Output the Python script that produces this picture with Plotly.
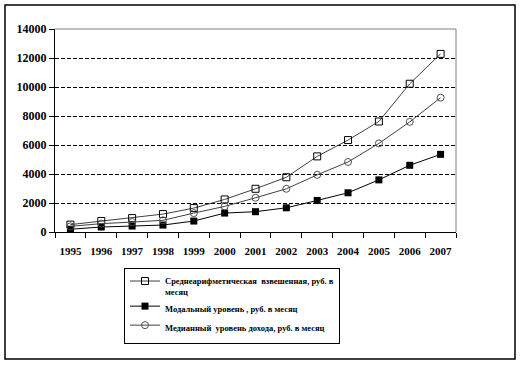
import plotly.graph_objects as go

years = ["1995", "1996", "1997", "1998", "1999", "2000", "2001", "2002", "2003", "2004", "2005", "2006", "2007"]
avg_income = [510, 760, 960, 1235, 1650, 2245, 2980, 3775, 5215, 6340, 7620, 10225, 12285]
modal_income = [190, 345, 410, 480, 755, 1305, 1400, 1670, 2175, 2705, 3595, 4600, 5355]
median_income = [390, 575, 685, 805, 1305, 1765, 2360, 2980, 3940, 4830, 6110, 7595, 9265]

name_avg = "Среднеарифметическая  взвешенная, руб. в<br>месяц"
name_modal = "Модальный уровень , руб. в месяц"
name_median = "Медианный  уровень дохода, руб. в месяц"

FONT = "Liberation Serif"
LINE = "#404040"

fig = go.Figure()
fig.add_trace(go.Scatter(x=years, y=avg_income, name=name_avg, mode="lines+markers",
                         line=dict(color=LINE, width=1),
                         marker=dict(symbol="square-open", size=7, color="black", line=dict(width=1))))
fig.add_trace(go.Scatter(x=years, y=modal_income, name=name_modal, mode="lines+markers",
                         line=dict(color="black", width=1),
                         marker=dict(symbol="square", size=7, color="black")))
fig.add_trace(go.Scatter(x=years, y=median_income, name=name_median, mode="lines+markers",
                         line=dict(color=LINE, width=1),
                         marker=dict(symbol="circle-open", size=7, color="#505050", line=dict(width=1))))

L, R, T, B = 55, 66, 29, 144
W, H = 522, 376
pw, ph = W - L - R, H - T - B

def px(x):
    return (x - L) / pw

def py(y):
    return (H - B - y) / ph

fig.update_layout(
    width=W, height=H,
    margin=dict(l=L, r=R, t=T, b=B),
    paper_bgcolor="white", plot_bgcolor="white",
    font=dict(family=FONT, color="black"),
    showlegend=True,
    legend=dict(x=px(124), y=py(268), xanchor="left", yanchor="top",
                bordercolor="black", borderwidth=1, bgcolor="white",
                font=dict(family=FONT, size=8.5, color="black", weight="bold"),
                valign="top", tracegroupgap=0, itemwidth=30),
    xaxis=dict(type="category", range=[-0.5, 12.5], showgrid=False,
               showline=True, linecolor="black", linewidth=1,
               ticks="outside", ticklen=5, tickcolor="black", tickson="boundaries",
               tickangle=0,
               tickfont=dict(family=FONT, size=11, color="black", weight="bold"),
               ticklabelstandoff=9),
    yaxis=dict(range=[0, 14000], dtick=2000, tickformat="d", showgrid=True,
               gridcolor="black", griddash="4px,2px", gridwidth=1, zeroline=False,
               showline=True, linecolor="black", linewidth=1,
               ticks="outside", ticklen=5, tickcolor="black",
               tickfont=dict(family=FONT, size=12, color="black", weight="bold")),
    shapes=[
        dict(type="line", xref="paper", yref="paper", x0=0, x1=1, y0=1, y1=1,
             line=dict(color="#808080", width=1), layer="above"),
        dict(type="line", xref="paper", yref="paper", x0=1, x1=1, y0=0, y1=1,
             line=dict(color="#808080", width=1), layer="above"),
        dict(type="rect", xref="paper", yref="paper", x0=px(5), x1=px(515), y0=py(359), y1=py(5),
             line=dict(color="black", width=1.5), fillcolor="rgba(0,0,0,0)", layer="below"),
    ],
)

fig.write_html("out.html", config={"displayModeBar": False},
               post_script="document.body.style.margin='0';document.body.style.overflow='hidden';")
